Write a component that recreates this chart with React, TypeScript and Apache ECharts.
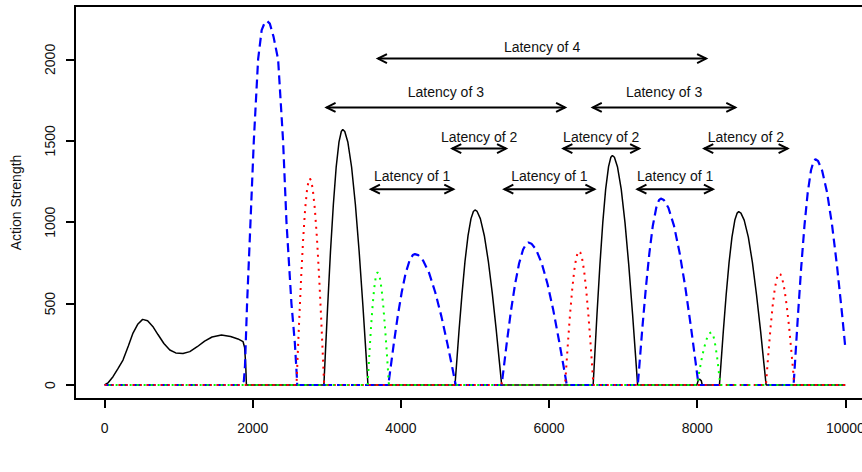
import React, { useEffect, useRef } from "react";
import * as echarts from "echarts";

// ---- data ----
const xTicks = [0, 2000, 4000, 6000, 8000, 10000];
const yTicks = [0, 500, 1000, 1500, 2000];

const blackCurve: [number, number][] = [
  [0, 0], [50, 15], [113, 51], [180, 100], [248, 153], [320, 240], [383, 319], [450, 375], [513, 403], [580, 395], [650, 360], [720, 310], [800, 255], [880, 215], [960, 197], [1058, 194], [1150, 205], [1250, 235], [1350, 270], [1450, 295], [1577, 307], [1700, 298], [1800, 283], [1869, 266], [1890, 230], [1905, 120], [1914, 0],
  [2960, 0], [2980, 196], [3011, 485], [3049, 820], [3088, 1110], [3126, 1339], [3164, 1493], [3195, 1557], [3215, 1570], [3242, 1557], [3283, 1493], [3334, 1339], [3385, 1110], [3436, 820], [3487, 485], [3528, 196], [3555, 0],
  [4730, 0], [4752, 134], [4784, 332], [4825, 561], [4865, 760], [4906, 917], [4946, 1022], [4978, 1066], [5000, 1075], [5029, 1066], [5072, 1022], [5126, 917], [5180, 760], [5234, 561], [5288, 332], [5331, 134], [5360, 0],
  [6595, 0], [6616, 176], [6647, 436], [6686, 736], [6725, 997], [6764, 1203], [6803, 1341], [6834, 1399], [6855, 1410], [6882, 1399], [6923, 1341], [6974, 1203], [7025, 997], [7076, 736], [7127, 436], [7168, 176], [7195, 0],
  [7995, 0], [8015, 30], [8035, 36], [8055, 26], [8068, 0],
  [8300, 0], [8321, 133], [8352, 329], [8391, 556], [8430, 753], [8469, 908], [8508, 1013], [8539, 1056], [8560, 1065], [8590, 1056], [8634, 1013], [8690, 908], [8745, 753], [8800, 556], [8856, 329], [8900, 133], [8930, 0],
  [10000, 0],
];

const blueCurve: [number, number][] = [
  [0, 0], [1840, 0], [1880, 25], [1895, 120], [1923, 500], [1969, 1000], [2014, 1500], [2072, 2000], [2120, 2180], [2160, 2225], [2195, 2235], [2230, 2220], [2280, 2140], [2342, 2000], [2409, 1500], [2455, 1000], [2522, 500], [2568, 258], [2590, 90], [2600, 0],
  [3830, 0], [3859, 101], [3902, 248], [3956, 420], [4010, 568], [4063, 686], [4117, 765], [4160, 798], [4189, 804], [4233, 798], [4299, 765], [4382, 686], [4464, 568], [4547, 420], [4630, 248], [4696, 101], [4740, 0],
  [5360, 0], [5389, 109], [5432, 270], [5486, 457], [5541, 619], [5595, 746], [5649, 832], [5692, 868], [5721, 875], [5762, 868], [5825, 832], [5902, 746], [5980, 619], [6058, 457], [6135, 270], [6198, 109], [6239, 0],
  [7198, 0], [7223, 143], [7260, 354], [7307, 598], [7354, 810], [7400, 977], [7447, 1089], [7484, 1136], [7509, 1145], [7550, 1136], [7611, 1089], [7687, 977], [7763, 810], [7840, 598], [7916, 354], [7977, 143], [8018, 0],
  [9301, 0], [9325, 173], [9360, 429], [9404, 724], [9448, 981], [9492, 1183], [9536, 1319], [9571, 1376], [9595, 1387], [9631, 1376], [9685, 1319], [9753, 1183], [9821, 981], [9889, 724], [9957, 429], [10000, 225],
];

const redCurve: [number, number][] = [
  [0, 0], [2590, 0], [2604, 159], [2626, 392], [2653, 662], [2680, 896], [2707, 1082], [2734, 1206], [2756, 1258], [2770, 1268], [2786, 1258], [2809, 1206], [2838, 1082], [2867, 896], [2896, 662], [2925, 392], [2948, 159], [2964, 0],
  [5350, 0], [5365, 15], [5380, 0],
  [6216, 0], [6231, 103], [6254, 254], [6282, 429], [6311, 581], [6339, 701], [6367, 782], [6390, 815], [6405, 822], [6421, 815], [6444, 782], [6473, 701], [6502, 581], [6531, 429], [6560, 254], [6583, 103], [6599, 0],
  [8928, 0], [8942, 86], [8964, 212], [8991, 358], [9018, 484], [9045, 584], [9072, 651], [9094, 680], [9108, 685], [9124, 680], [9149, 651], [9179, 584], [9209, 484], [9240, 358], [9270, 212], [9295, 86], [9311, 0],
  [10000, 0],
];

const greenCurve: [number, number][] = [
  [0, 0], [3550, 0], [3561, 86], [3577, 214], [3597, 361], [3618, 489], [3638, 589], [3658, 657], [3674, 685], [3685, 691], [3697, 685], [3716, 657], [3739, 589], [3761, 489], [3784, 361], [3807, 214], [3826, 86], [3838, 0],
  [7996, 0], [8012, 40], [8035, 100], [8064, 169], [8093, 228], [8122, 276], [8151, 307], [8174, 320], [8190, 323], [8200, 320], [8214, 307], [8232, 276], [8250, 228], [8269, 169], [8287, 100], [8301, 40], [8311, 0],
  [10000, 0],
];

// latency annotations
const arrowLabels = [
  "Latency of 4",
  "Latency of 3", "Latency of 3",
  "Latency of 2", "Latency of 2", "Latency of 2",
  "Latency of 1", "Latency of 1", "Latency of 1",
];
const arrowStarts = [3690, 2996, 6590, 4693, 6193, 8095, 3595, 5396, 7193];
const arrowEnds = [8120, 6216, 8514, 5419, 7216, 9220, 4707, 6612, 8212];
const arrowLevels = [2005, 1705, 1705, 1452, 1452, 1452, 1203, 1203, 1203];
const labelLevels = [2078, 1798, 1798, 1525, 1525, 1525, 1284, 1284, 1284];

const FONT = "Liberation Sans, Arial, sans-serif";
const Y_MIN = -86;
const Y_MAX = 2328;

export default function App() {
  const ref = useRef<HTMLDivElement>(null);

  useEffect(() => {
    if (!ref.current) return;
    const chart = echarts.init(ref.current, undefined, { renderer: "svg" });

    const arrowData = arrowStarts.map((s, i) => [s, arrowEnds[i], arrowLevels[i], labelLevels[i]]);

    const lineBase = {
      type: "line",
      showSymbol: false,
      symbol: "none",
      silent: true,
    };

    chart.setOption({
      animation: false,
      grid: {
        left: 75,
        top: 6,
        width: 800,
        height: 393,
        show: true,
        borderColor: "#000",
        borderWidth: 2,
        outerBoundsMode: "none",
      },
      xAxis: {
        type: "value",
        min: -400,
        max: 10400,
        axisLine: { show: true, onZero: false, lineStyle: { color: "#000", width: 2 } },
        splitLine: { show: false },
        axisTick: {
          show: true,
          length: 9,
          customValues: xTicks,
          lineStyle: { color: "#000", width: 2 },
        },
        axisLabel: {
          customValues: xTicks,
          formatter: (v: number) => String(v),
          margin: 22,
          fontSize: 14,
          fontFamily: FONT,
          color: "#111",
        },
      },
      yAxis: [
        {
          type: "value",
          min: Y_MIN,
          max: Y_MAX,
          name: "Action Strength",
          nameLocation: "middle",
          nameRotate: 90,
          nameGap: 52,
          nameTextStyle: { fontSize: 14, fontFamily: FONT, color: "#111" },
          axisLine: { show: false, onZero: false },
          splitLine: { show: false },
          axisTick: { show: false },
          axisLabel: {
            customValues: yTicks,
            formatter: (v: number) => String(v),
            rotate: 90,
            margin: 18,
            fontSize: 14,
            fontFamily: FONT,
            color: "#111",
          },
        },
        {
          type: "value",
          position: "left",
          offset: 0,
          min: Y_MIN,
          max: Y_MAX,
          axisLine: { show: true, onZero: false, lineStyle: { color: "#000", width: 2 } },
          splitLine: { show: false },
          axisTick: {
            show: true,
            length: 9,
            customValues: yTicks,
            lineStyle: { color: "#000", width: 2 },
          },
          axisLabel: { show: false, customValues: yTicks },
        },
      ],
      series: [
        {
          ...lineBase,
          name: "black",
          data: blackCurve,
          lineStyle: { color: "#000000", width: 1.5, type: "solid" },
          z: 2,
        },
        {
          ...lineBase,
          name: "blue",
          data: blueCurve,
          lineStyle: { color: "#0000FF", width: 2.2, type: [9, 5] },
          z: 3,
        },
        {
          ...lineBase,
          name: "red",
          data: redCurve,
          lineStyle: { color: "#FF0000", width: 2, type: [2, 5] },
          z: 4,
        },
        {
          ...lineBase,
          name: "green",
          data: greenCurve,
          lineStyle: { color: "#00FF00", width: 2, type: [2, 5], dashOffset: 3 },
          z: 5,
        },
        {
          type: "custom",
          name: "latency",
          silent: true,
          z: 10,
          encode: { x: [0, 1], y: [2, 3] },
          data: arrowData,
          renderItem: (params: any, api: any) => {
            const x1 = api.value(0);
            const x2 = api.value(1);
            const y = api.value(2);
            const ty = api.value(3);
            const a = api.coord([x1, y]);
            const b = api.coord([x2, y]);
            const t = api.coord([(x1 + x2) / 2, ty]);
            const hl = 9;
            const hw = 4.5;
            const st = { stroke: "#000", lineWidth: 2, fill: "none" };
            return {
              type: "group",
              children: [
                { type: "line", shape: { x1: a[0], y1: a[1], x2: b[0], y2: b[1] }, style: st },
                {
                  type: "polyline",
                  shape: { points: [[a[0] + hl, a[1] - hw], [a[0], a[1]], [a[0] + hl, a[1] + hw]] },
                  style: st,
                },
                {
                  type: "polyline",
                  shape: { points: [[b[0] - hl, b[1] - hw], [b[0], b[1]], [b[0] - hl, b[1] + hw]] },
                  style: st,
                },
                {
                  type: "text",
                  x: t[0],
                  y: t[1],
                  style: {
                    text: arrowLabels[params.dataIndex],
                    align: "center",
                    verticalAlign: "middle",
                    fontSize: 14,
                    fontFamily: FONT,
                    fill: "#111",
                  },
                },
              ],
            };
          },
        },
      ],
    });

    return () => {
      chart.dispose();
    };
  }, []);

  return (
    <div
      ref={ref}
      style={{ position: "fixed", left: 0, top: 0, width: 862, height: 472, background: "#fff" }}
    />
  );
}
